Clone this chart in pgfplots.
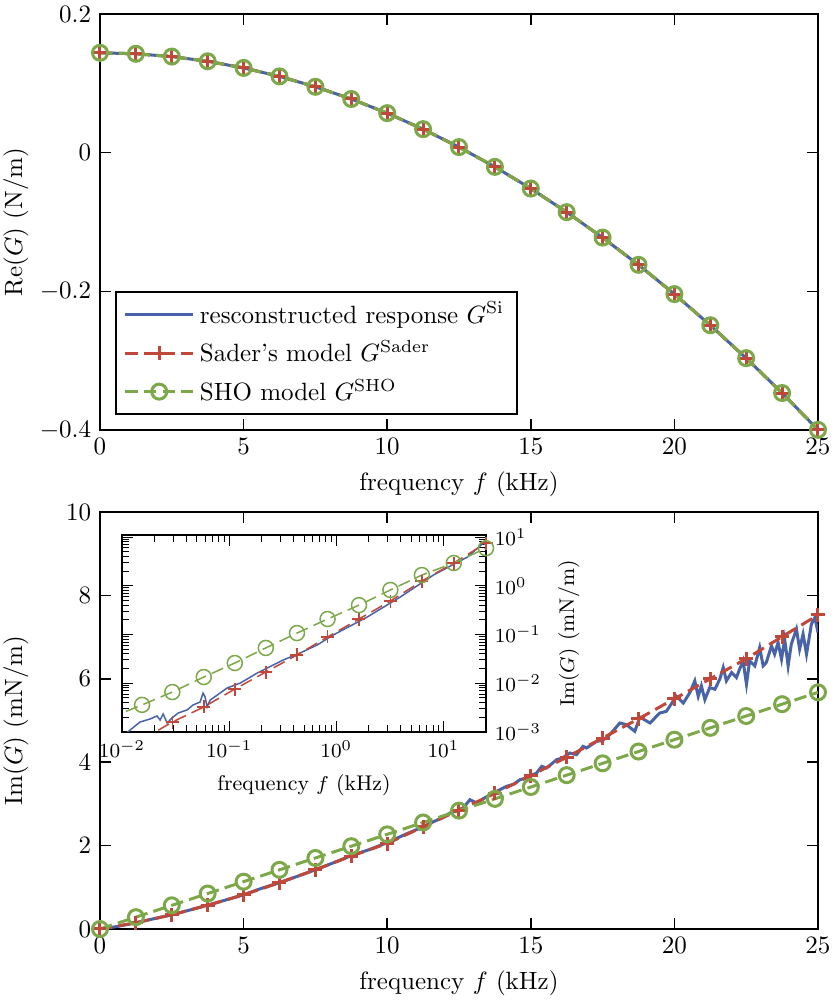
\documentclass[border=0pt]{standalone}
\usepackage{pgfplots}
\usepackage{pgfplotstable}
\pgfplotsset{compat=1.18}
\definecolor{cblue}{RGB}{72,99,168}
\definecolor{cred}{RGB}{192,72,58}
\definecolor{cgreen}{RGB}{124,168,74}

\pgfplotstableread{
f re
0 0.1440
1.25 0.1426
2.5 0.1386
3.75 0.1318
5 0.1222
6.25 0.1100
7.5 0.0950
8.75 0.0774
10 0.0570
11.25 0.0339
12.5 0.0080
13.75 -0.0205
15 -0.0518
16.25 -0.0858
17.5 -0.1225
18.75 -0.1618
20 -0.2040
21.25 -0.2489
22.5 -0.2964
23.75 -0.3467
25 -0.3998
}\redata

\pgfplotstableread{
f im
0 0
1.25 0.15
2.5 0.34
3.75 0.57
5 0.82
6.25 1.11
7.5 1.42
8.75 1.75
10 2.05
11.25 2.45
12.5 2.85
13.75 3.25
15 3.68
16.25 4.12
17.5 4.58
18.75 5.04
20 5.52
21.25 6.00
22.5 6.48
23.75 7.01
25 7.53
}\saderdata

\pgfplotstableread{
f im
0 0
1.25 0.284
2.5 0.568
3.75 0.851
5 1.135
6.25 1.419
7.5 1.703
8.75 1.986
10 2.270
11.25 2.554
12.5 2.838
13.75 3.121
15 3.405
16.25 3.689
17.5 3.973
18.75 4.256
20 4.540
21.25 4.824
22.5 5.108
23.75 5.391
25 5.675
}\shodata

\pgfplotstableread{
f im
0 0
0.6 0.06
1.25 0.15
1.9 0.25
2.5 0.34
3.1 0.45
3.75 0.57
4.4 0.70
5 0.82
5.6 0.97
6.25 1.11
6.9 1.27
7.5 1.42
8.1 1.58
8.75 1.76
9.4 1.91
10 2.07
10.6 2.26
11.25 2.45
11.5 2.54
11.9 2.66
12.18 2.78
12.64 2.90
12.88 3.10
13.11 3.02
13.57 3.22
14.15 3.42
14.4 3.47
14.62 3.58
14.9 3.63
15.20 3.74
15.38 3.90
15.55 3.86
15.9 4.06
16.1 4.10
16.36 4.22
16.59 4.18
16.82 4.38
16.94 4.34
17.29 4.50
17.5 4.52
17.75 4.66
18.10 4.94
18.33 4.90
18.62 4.74
18.80 5.08
19.15 4.94
19.49 5.18
19.72 5.22
20.07 5.58
20.31 5.42
20.54 5.67
20.71 5.95
20.83 5.58
20.94 5.83
21.06 5.50
21.23 5.79
21.41 5.75
21.58 5.99
21.70 6.27
21.81 5.95
21.99 6.15
22.16 6.03
22.27 6.23
22.39 6.43
22.51 5.87
22.62 6.43
22.80 6.31
22.97 6.75
23.09 6.31
23.20 6.39
23.38 6.79
23.49 6.59
23.61 6.87
23.73 6.47
23.84 6.95
23.96 6.31
24.07 6.83
24.25 7.19
24.36 6.71
24.48 7.07
24.60 6.59
24.77 7.31
24.89 7.47
25.00 7.11
}\sidata

\pgfplotstableread{
f im
0.0154 0.00070
0.0295 0.00160
0.058 0.00326
0.113 0.0076
0.22 0.017
0.43 0.038
0.83 0.089
1.63 0.208
3.2 0.486
6.3 1.25
12.5 2.93
25 7.5
}\insader

\pgfplotstableread{
f im
0.0075 0.0019
0.0154 0.0036
0.0295 0.0066
0.058 0.0134
0.113 0.026
0.22 0.053
0.43 0.107
0.83 0.208
1.63 0.40
3.2 0.82
6.3 1.66
12.5 2.93
25 5.9
}\insho

\pgfplotstableread{
f im
0.0110 0.00095
0.0147 0.0016
0.0183 0.00185
0.0212 0.00213
0.0227 0.00176
0.0242 0.00234
0.0264 0.00153
0.0293 0.00194
0.0334 0.00245
0.0405 0.00283
0.046 0.00358
0.0536 0.00412
0.0571 0.0063
0.0597 0.0052
0.0623 0.00326
0.0664 0.0045
0.0773 0.0057
0.0958 0.0080
0.127 0.0101
0.15 0.0125
0.183 0.0162
0.227 0.0206
0.32 0.030
0.461 0.0418
0.664 0.061
0.937 0.0977
1.95 0.229
3.96 0.587
8.07 1.66
16.8 3.89
23.6 7.5
25 7.1
}\insi

\begin{document}
\begin{tikzpicture}
\useasboundingbox (-40pt,-30pt) rectangle (294pt,371.6pt);
\pgfplotsset{
  mainax/.style={
    width=287.2pt, scale only axis,
    xmin=0, xmax=25, xtick={0,5,10,15,20,25},
    xlabel={frequency $f$ (kHz)},
    ylabel style={at={(axis description cs:-0.117,0.5)}, anchor=center},
    tick style={black, semithick},
    axis line style={semithick},
    every axis plot/.append style={line width=1.2pt},
  },
  sistyle/.style={cblue, solid, line width=1.2pt},
  sadstyle/.style={cred, dash pattern=on 5pt off 2.5pt, mark=+, mark size=2.8pt, mark options={solid}},
  shostyle/.style={cgreen, dash pattern=on 5pt off 2.5pt, mark=o, mark size=3pt, mark options={solid}},
}
% top axis
\begin{axis}[mainax,
  at={(0pt,199.6pt)}, anchor=south west, height=166.4pt,
  ymin=-0.4, ymax=0.2, ytick={-0.4,-0.2,0,0.2},
  yticklabels={$-0.4$,$-0.2$,$0$,$0.2$},
  ylabel={$\mathrm{Re}(G)$ (N/m)},
  legend style={at={(axis description cs:0.021,0.036)}, anchor=south west,
    draw=black, thick, font=\normalsize, row sep=1.5pt, inner xsep=3pt, inner ysep=2pt,
    cells={anchor=west}},
  legend image code/.code={\draw[mark repeat=2,mark phase=2] plot coordinates {(0cm,0cm) (0.48cm,0cm) (0.96cm,0cm)};},
]
\addplot[sistyle] table[x=f,y=re] {\redata};
\addlegendentry{resconstructed response $G^{\mathrm{Si}}$}
\addplot[sadstyle] table[x=f,y=re] {\redata};
\addlegendentry{Sader's model $G^{\mathrm{Sader}}$}
\addplot[shostyle] table[x=f,y=re] {\redata};
\addlegendentry{SHO model $G^{\mathrm{SHO}}$}
\end{axis}
% bottom axis
\begin{axis}[mainax,
  at={(0pt,0pt)}, anchor=south west, height=166.8pt,
  ymin=0, ymax=10, ytick={0,2,4,6,8,10},
  ylabel={$\mathrm{Im}(G)$ (mN/m)},
]
\addplot[sistyle] table[x=f,y=im] {\sidata};
\addplot[sadstyle] table[x=f,y=im] {\saderdata};
\addplot[shostyle] table[x=f,y=im] {\shodata};
\end{axis}
% inset
\begin{axis}[
  at={(8.8pt,157.6pt)}, anchor=north west,
  width=145.6pt, height=78.8pt, scale only axis,
  xmode=log, ymode=log,
  xmin=0.01, xmax=25, ymin=1e-3, ymax=11,
  xtick={0.01,0.1,1,10}, ytick={0.001,0.01,0.1,1,10},
  yticklabel pos=right,
  axis background/.style={fill=white},
  tick style={black, thin},
  axis line style={semithick},
  font=\fontsize{8.5}{10}\selectfont,
  ticklabel style={font=\fontsize{8.5}{10}\selectfont},
  xlabel={frequency $f$ (kHz)},
  ylabel={$\mathrm{Im}(G)$ (mN/m)},
  every axis plot/.append style={line width=0.6pt},
]
\addplot[cblue, solid] table[x=f,y=im] {\insi};
\addplot[cred, dash pattern=on 5pt off 2.5pt, mark=+, mark size=2.6pt, mark options={solid}] table[x=f,y=im] {\insader};
\addplot[cgreen, dash pattern=on 5pt off 2.5pt, mark=o, mark size=3pt, mark options={solid}] table[x=f,y=im] {\insho};
\end{axis}
\end{tikzpicture}
\end{document}
